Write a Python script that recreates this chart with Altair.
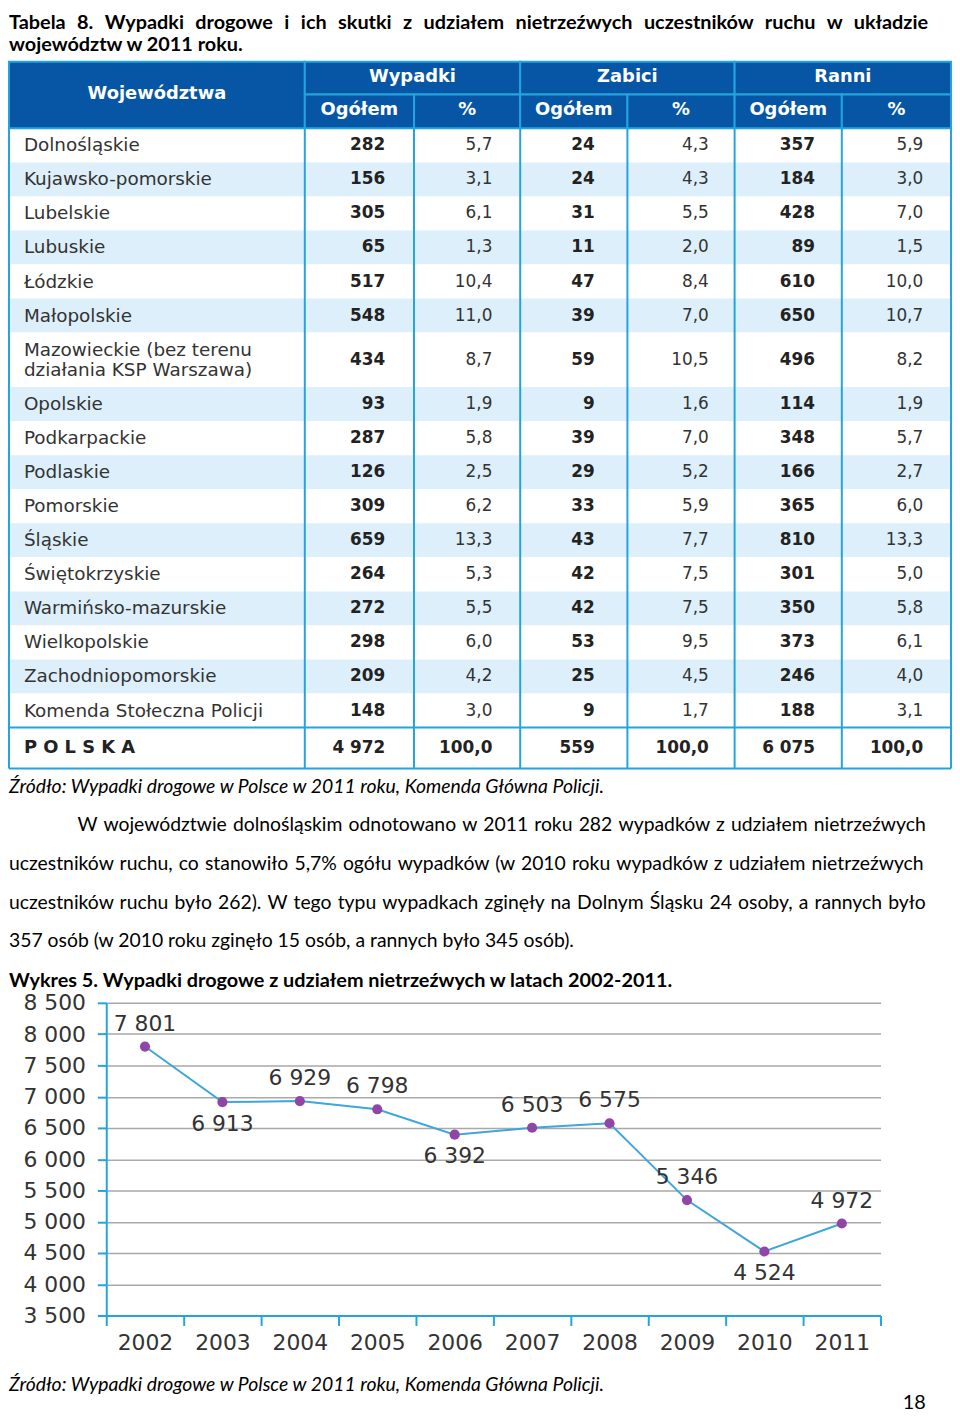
import altair as alt
import numpy as np
import pandas as pd

# ---------------- data ----------------
title_lines = [
    "Tabela 8. Wypadki drogowe i ich skutki z udziałem nietrzeźwych uczestników ruchu w układzie",
    "województw w 2011 roku.",
]
first_header = "Województwa"
group_headers = ["Wypadki", "Zabici", "Ranni"]
sub_headers = ["Ogółem", "%"]

regions = [
    "Dolnośląskie", "Kujawsko-pomorskie", "Lubelskie", "Lubuskie", "Łódzkie",
    "Małopolskie", "Mazowieckie (bez terenu\ndziałania KSP Warszawa)", "Opolskie",
    "Podkarpackie", "Podlaskie", "Pomorskie", "Śląskie", "Świętokrzyskie",
    "Warmińsko-mazurskie", "Wielkopolskie", "Zachodniopomorskie",
    "Komenda Stołeczna Policji", "P O L S K A",
]
accidents_total = [282, 156, 305, 65, 517, 548, 434, 93, 287, 126, 309, 659, 264, 272, 298, 209, 148, 4972]
accidents_pct = [5.7, 3.1, 6.1, 1.3, 10.4, 11.0, 8.7, 1.9, 5.8, 2.5, 6.2, 13.3, 5.3, 5.5, 6.0, 4.2, 3.0, 100.0]
killed_total = [24, 24, 31, 11, 47, 39, 59, 9, 39, 29, 33, 43, 42, 42, 53, 25, 9, 559]
killed_pct = [4.3, 4.3, 5.5, 2.0, 8.4, 7.0, 10.5, 1.6, 7.0, 5.2, 5.9, 7.7, 7.5, 7.5, 9.5, 4.5, 1.7, 100.0]
injured_total = [357, 184, 428, 89, 610, 650, 496, 114, 348, 166, 365, 810, 301, 350, 373, 246, 188, 6075]
injured_pct = [5.9, 3.0, 7.0, 1.5, 10.0, 10.7, 8.2, 1.9, 5.7, 2.7, 6.0, 13.3, 5.0, 5.8, 6.1, 4.0, 3.1, 100.0]

source_text = "Źródło: Wypadki drogowe w Polsce w 2011 roku, Komenda Główna Policji."
paragraph_lines = [
    "W województwie dolnośląskim odnotowano w 2011 roku 282 wypadków z udziałem nietrzeźwych",
    "uczestników ruchu, co stanowiło 5,7% ogółu wypadków (w 2010 roku wypadków z udziałem nietrzeźwych",
    "uczestników ruchu było 262). W tego typu wypadkach zginęły na Dolnym Śląsku 24 osoby, a rannych było",
    "357 osób (w 2010 roku zginęło 15 osób, a rannych było 345 osób).",
]
figure_title = "Wykres 5. Wypadki drogowe z udziałem nietrzeźwych w latach 2002-2011."

years = [2002, 2003, 2004, 2005, 2006, 2007, 2008, 2009, 2010, 2011]
drunk_accidents = [7801, 6913, 6929, 6798, 6392, 6503, 6575, 5346, 4524, 4972]
label_side = ["above", "below", "above", "above", "below", "above", "above", "above", "below", "above"]
page_number = "18"

# ---------------- layout / style ----------------
PAGE_W = 949          # full page content width
LEFT = 98             # distance from page content edge to line-chart plot area
TOP_H = 984
col_w = [298, 110, 107, 108, 108, 108, 110]
num_right_pad = [29, 28, 33, 26, 27, 28]
table_top = 47
header_h = [33, 34]
row_unit = 34.3
row_units = [1] * 6 + [1.6] + [1] * 10 + [1.2]
name_indent = 15
name_line_h = 20

HEADER_BLUE = "#0656A5"
CYAN = "#22A5DE"
STRIPE = "#DDEFFA"
BODY_FONT = "Lato"
TABLE_FONT = "DejaVu Sans"

LINE_W, LINE_H = 780, 315
LINE_COLOR = "#3FA6DA"
POINT_COLOR = "#9046A6"
GRID = "#A9A9A9"

# word-spacing used to imitate the justified lines of the page
WIDE_GAP = "\u2004"    # three-per-em space
THIN_GAP = "\u200a"    # hair space


def justify(line, gap):
    return line.replace(" ", " " + gap)


def fmt_int(v):
    return f"{v:,}".replace(",", " ")


def fmt_pct(v):
    return f"{v:.1f}".replace(".", ",")


xb = np.cumsum([0] + col_w).tolist()
hy = [table_top, table_top + header_h[0], table_top + header_h[0] + header_h[1]]
ry = (hy[2] + np.cumsum([0] + [u * row_unit for u in row_units])).tolist()
n_rows = len(regions)

# the top panel's plot origin is aligned with the line chart's plot origin,
# so its page coordinates start LEFT px to the left of it
xs = alt.Scale(domain=[0, PAGE_W], range=[-LEFT, PAGE_W - LEFT], nice=False, zero=False)
ys = alt.Scale(domain=[0, TOP_H], nice=False, zero=False, reverse=True)

# ---- header cells
hdr = [dict(x0=xb[0], x1=xb[1], y0=hy[0], y1=hy[2], label=first_header)]
for g, name in enumerate(group_headers):
    hdr.append(dict(x0=xb[1 + 2 * g], x1=xb[3 + 2 * g], y0=hy[0], y1=hy[1], label=name))
for c in range(6):
    hdr.append(dict(x0=xb[1 + c], x1=xb[2 + c], y0=hy[1], y1=hy[2], label=sub_headers[c % 2]))
hdr_df = pd.DataFrame(hdr)
hdr_df["xc"] = (hdr_df.x0 + hdr_df.x1) / 2
hdr_df["yc"] = (hdr_df.y0 + hdr_df.y1) / 2 - 1

# ---- body rows
rows_df = pd.DataFrame({
    "name": regions,
    "y0": ry[:-1],
    "y1": ry[1:],
    "x0": 0,
    "x1": PAGE_W,
    "stripe": ["light" if (i % 2 == 1 and i < n_rows - 1) else "white" for i in range(n_rows)],
    "bold": [i == n_rows - 1 for i in range(n_rows)],
})
rows_df["yc"] = (rows_df.y0 + rows_df.y1) / 2
n_lines = rows_df.name.str.count("\n")
rows_df["yt"] = rows_df.yc - n_lines * name_line_h / 2
rows_df["xn"] = name_indent

cols = [
    [fmt_int(v) for v in accidents_total], [fmt_pct(v) for v in accidents_pct],
    [fmt_int(v) for v in killed_total], [fmt_pct(v) for v in killed_pct],
    [fmt_int(v) for v in injured_total], [fmt_pct(v) for v in injured_pct],
]
cells = []
for c, vals in enumerate(cols):
    for r, v in enumerate(vals):
        cells.append(dict(x=xb[c + 2] - num_right_pad[c], yc=rows_df.yc[r], text=v,
                          bold=(c % 2 == 0) or (r == n_rows - 1)))
cells_df = pd.DataFrame(cells)

vrules_df = pd.DataFrame({"x": xb, "y0": hy[2], "y1": ry[-1]})
hrules_df = pd.DataFrame({"y": [ry[-2], ry[-1]], "x0": 0, "x1": PAGE_W})

# ---- page text blocks
blocks = []
blocks.append(dict(x=0, y=14, text=justify(title_lines[0], WIDE_GAP), style="bold"))
blocks.append(dict(x=0, y=36, text=title_lines[1], style="bold"))
blocks.append(dict(x=0, y=784, text=source_text, style="italic"))
for i, line in enumerate(paragraph_lines):
    txt = justify(line, THIN_GAP) if i < len(paragraph_lines) - 1 else line
    blocks.append(dict(x=69 if i == 0 else 0, y=822 + 39 * i, text=txt, style="normal"))
blocks.append(dict(x=0, y=979, text=figure_title, style="bold"))
blocks_df = pd.DataFrame(blocks)

X = lambda f: alt.X(f, scale=xs, axis=None)
Y = lambda f: alt.Y(f, scale=ys, axis=None)

stripes = alt.Chart(rows_df).mark_rect().encode(
    x=X("x0:Q"), x2="x1:Q", y=Y("y0:Q"), y2="y1:Q",
    color=alt.Color("stripe:N", scale=alt.Scale(domain=["white", "light"], range=["#FFFFFF", STRIPE]), legend=None),
)
hdr_rects = alt.Chart(hdr_df).mark_rect(fill=HEADER_BLUE, stroke=CYAN, strokeWidth=2).encode(
    x=X("x0:Q"), x2="x1:Q", y=Y("y0:Q"), y2="y1:Q")
vrules = alt.Chart(vrules_df).mark_rule(color=CYAN, strokeWidth=2).encode(x=X("x:Q"), y=Y("y0:Q"), y2="y1:Q")
hrules = alt.Chart(hrules_df).mark_rule(color=CYAN, strokeWidth=2).encode(y=Y("y:Q"), x=X("x0:Q"), x2="x1:Q")
hdr_text = alt.Chart(hdr_df).mark_text(font=TABLE_FONT, fontSize=18, fontWeight="bold", color="white",
                                       align="center", baseline="middle").encode(
    x=X("xc:Q"), y=Y("yc:Q"), text="label:N")
names_reg = alt.Chart(rows_df).transform_filter("!datum.bold").mark_text(
    font=TABLE_FONT, fontSize=18.5, color="#333333", align="left", baseline="middle", lineBreak="\n",
    lineHeight=name_line_h).encode(x=X("xn:Q"), y=Y("yt:Q"), text="name:N")
names_bold = alt.Chart(rows_df).transform_filter("datum.bold").mark_text(
    font=TABLE_FONT, fontSize=18, fontWeight="bold", color="#222222", align="left", baseline="middle").encode(
    x=X("xn:Q"), y=Y("yt:Q"), text="name:N")
nums_bold = alt.Chart(cells_df).transform_filter("datum.bold").mark_text(
    font=TABLE_FONT, fontSize=17, fontWeight="bold", color="#222222", align="right", baseline="middle").encode(
    x=X("x:Q"), y=Y("yc:Q"), text="text:N")
nums_reg = alt.Chart(cells_df).transform_filter("!datum.bold").mark_text(
    font=TABLE_FONT, fontSize=17, color="#333333", align="right", baseline="middle").encode(
    x=X("x:Q"), y=Y("yc:Q"), text="text:N")

blk_bold = alt.Chart(blocks_df).transform_filter("datum.style == 'bold'").mark_text(
    font=BODY_FONT, fontSize=20, fontWeight="bold", color="#000000", align="left", baseline="alphabetic").encode(
    x=X("x:Q"), y=Y("y:Q"), text="text:N")
blk_norm = alt.Chart(blocks_df).transform_filter("datum.style == 'normal'").mark_text(
    font=BODY_FONT, fontSize=19.5, color="#000000", align="left", baseline="alphabetic").encode(
    x=X("x:Q"), y=Y("y:Q"), text="text:N")
blk_ital = alt.Chart(blocks_df).transform_filter("datum.style == 'italic'").mark_text(
    font=BODY_FONT, fontSize=19.5, fontStyle="italic", color="#000000", align="left", baseline="alphabetic").encode(
    x=X("x:Q"), y=Y("y:Q"), text="text:N")

top_chart = alt.layer(
    stripes, hdr_rects, vrules, hrules, hdr_text, names_reg, names_bold, nums_bold, nums_reg,
    blk_bold, blk_norm, blk_ital,
).properties(width=PAGE_W - LEFT, height=TOP_H)

# ---------------- line chart ----------------
line_df = pd.DataFrame({"year": years, "value": drunk_accidents, "side": label_side})
line_df["label"] = [fmt_int(v) for v in drunk_accidents]

x_enc = alt.X("year:O", scale=alt.Scale(type="band", paddingInner=0, paddingOuter=0),
              axis=alt.Axis(title=None, labelAngle=0, tickBand="extent", domainColor=CYAN, domainWidth=2,
                            tickColor=CYAN, tickWidth=2, tickSize=10, labelPadding=7,
                            labelFont=TABLE_FONT, labelFontSize=22, labelColor="#333333", grid=False))
y_enc = alt.Y("value:Q", scale=alt.Scale(domain=[3500, 8500], nice=False, zero=False),
              axis=alt.Axis(title=None, values=list(range(3500, 8501, 500)),
                            labelExpr="replace(format(datum.value, ','), ',', ' ')",
                            domainColor=CYAN, domainWidth=2, tickColor=CYAN, tickWidth=2, tickSize=9,
                            labelPadding=12, labelFont=TABLE_FONT, labelFontSize=22, labelColor="#333333",
                            grid=True, gridColor=GRID, gridWidth=1.5))

base = alt.Chart(line_df).encode(x=x_enc, y=y_enc)
line = base.mark_line(color=LINE_COLOR, strokeWidth=2)
pts = base.mark_circle(color=POINT_COLOR, size=105, opacity=1)
lab_above = base.transform_filter("datum.side == 'above'").mark_text(
    font=TABLE_FONT, fontSize=22, color="#333333", dy=-23, baseline="middle").encode(text="label:N")
lab_below = base.transform_filter("datum.side == 'below'").mark_text(
    font=TABLE_FONT, fontSize=22, color="#333333", dy=22, baseline="middle").encode(text="label:N")

foot_df = pd.DataFrame({"text": [source_text]})
foot_src = alt.Chart(foot_df).mark_text(font=BODY_FONT, fontSize=19.5, fontStyle="italic", color="#000000",
                                        align="left", baseline="alphabetic").encode(
    x=alt.value(-LEFT), y=alt.value(391), text="text:N")
page_df = pd.DataFrame({"text": [page_number]})
page_txt = alt.Chart(page_df).mark_text(font=BODY_FONT, fontSize=20, color="#000000",
                                        align="center", baseline="alphabetic").encode(
    x=alt.value(814), y=alt.value(409), text="text:N")

line_chart = alt.layer(line, pts, lab_above, lab_below, foot_src, page_txt).properties(
    width=LINE_W, height=LINE_H)

chart = alt.vconcat(top_chart, line_chart, spacing=0).properties(padding=0).configure_view(
    strokeWidth=0).configure_concat(spacing=0)

chart.save("out.html", embed_options={"renderer": "svg", "actions": False})
